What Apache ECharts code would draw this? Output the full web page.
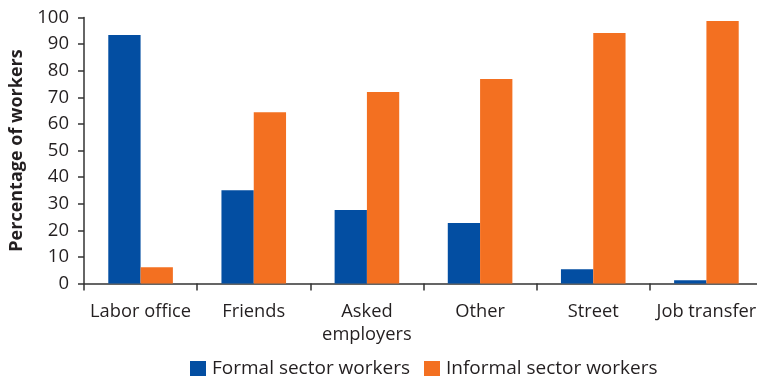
<!DOCTYPE html>
<html><head><meta charset="utf-8">
<script src="https://cdn.jsdelivr.net/npm/echarts@6/dist/echarts.min.js"></script>
<style>html,body{margin:0;padding:0;background:#fff}#c{width:757px;height:378px}</style>
</head><body><div id="c"></div>
<script>
const categories = ['Labor office', 'Friends', 'Asked\nemployers', 'Other', 'Street', 'Job transfer'];
const formal = [93.4, 35.1, 27.6, 22.7, 5.4, 1.2];
const informal = [6.1, 64.4, 72.0, 76.9, 94.2, 98.7];
const seriesNames = ['Formal sector workers', 'Informal sector workers'];
const yTicks = [0, 10, 20, 30, 40, 50, 60, 70, 80, 90, 100];

const font = 'Open Sans';
const chart = echarts.init(document.getElementById('c'), null, {renderer: 'canvas'});
chart.setOption({
  animation: false,
  textStyle: {fontFamily: font},
  grid: {left: 84, width: 679, top: 17.5, height: 266, containLabel: false, outerBoundsMode: 'none'},
  legend: {
    top: 354, left: 185, itemWidth: 16, itemHeight: 15, itemGap: 14,
    icon: 'rect',
    textStyle: {fontFamily: font, fontSize: 19, color: '#231f20', padding: [0, 0, 0, 1]},
    data: seriesNames
  },
  xAxis: {
    type: 'category', data: categories,
    axisLine: {lineStyle: {color: '#333', width: 1.5}},
    axisTick: {show: true, length: 7, lineStyle: {color: '#333', width: 1.5}},
    axisLabel: {fontFamily: font, fontSize: 18.3, color: '#231f20', margin: 17, lineHeight: 23, interval: 0, hideOverlap: false}
  },
  yAxis: {
    type: 'value', min: yTicks[0], max: yTicks[yTicks.length - 1], interval: 10,
    name: 'Percentage of workers', nameLocation: 'middle', nameGap: 56,
    nameTextStyle: {fontFamily: font, fontSize: 18, fontWeight: 'bold', color: '#231f20'},
    axisLine: {show: true, lineStyle: {color: '#333', width: 1.5}},
    axisTick: {show: true, length: 6, lineStyle: {color: '#333', width: 1.5}},
    splitLine: {show: false},
    axisLabel: {fontFamily: font, fontSize: 18.5, color: '#231f20', margin: 15}
  },
  series: [
    {name: seriesNames[0], type: 'bar', data: formal, barWidth: 32.3, barGap: '0%', itemStyle: {color: '#034ea2'}},
    {name: seriesNames[1], type: 'bar', data: informal, barWidth: 32.3, barGap: '0%', itemStyle: {color: '#f37021'}}
  ]
});
</script></body></html>
